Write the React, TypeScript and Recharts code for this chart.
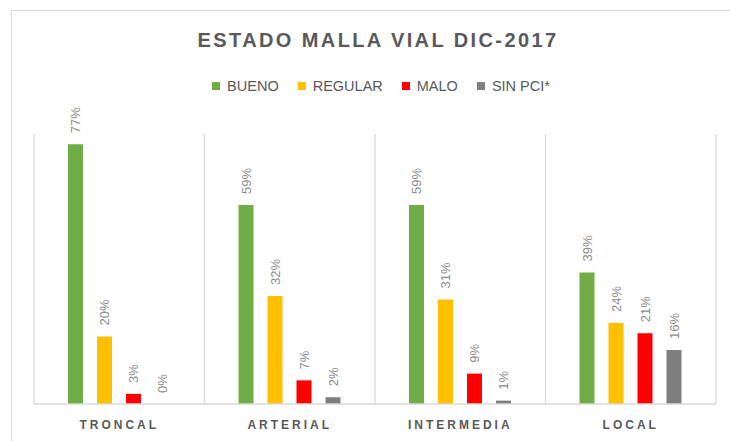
import { BarChart, Bar, XAxis, YAxis, CartesianGrid, Legend, LabelList } from "recharts";

const categories = ["TRONCAL", "ARTERIAL", "INTERMEDIA", "LOCAL"];
const bueno = [77, 59, 59, 39];
const regular = [20, 32, 31, 24];
const malo = [3, 7, 9, 21];
const sinPci = [0, 2, 1, 16];
const seriesNames = ["BUENO", "REGULAR", "MALO", "SIN PCI*"];
const seriesColors = ["#70ad47", "#ffc000", "#ff0000", "#7f7f7f"];
const yTicks = [0, 20, 40, 60, 80];
const separatorTicks = [0, 1, 2, 3, 4];

// pos = middle of each category slot, used by the hidden separator axis
const data = categories.map((name, i) => ({
  name,
  pos: i + 0.5,
  BUENO: bueno[i],
  REGULAR: regular[i],
  MALO: malo[i],
  "SIN PCI*": sinPci[i],
}));

const SANS = '"Liberation Sans", Arial, sans-serif';

const renderValue = (props: any) => {
  const { x, y, width, value } = props;
  const cx = Number(x) + Number(width) / 2;
  const ty = Number(y) - 11;
  return (
    <text
      x={cx}
      y={ty}
      transform={`rotate(-90 ${cx} ${ty})`}
      textAnchor="start"
      dominantBaseline="central"
      fill="#8c8c8c"
      fontSize={13}
      fontFamily={SANS}
    >
      {value ?? 0}%
    </text>
  );
};

const LegendContent = () => (
  <div
    style={{
      height: 20,
      display: "flex",
      justifyContent: "center",
      alignItems: "center",
      paddingLeft: 32,
      fontFamily: SANS,
      fontSize: 14.5,
      color: "#595959",
    }}
  >
    {seriesNames.map((n, i) => (
      <div key={n} style={{ display: "flex", alignItems: "center", marginRight: i < 3 ? 19 : 0 }}>
        <span style={{ width: 8, height: 8, background: seriesColors[i], marginRight: 7 }} />
        <span>{n}</span>
      </div>
    ))}
  </div>
);

export default function App() {
  return (
    <div style={{ position: "absolute", left: 0, top: 0, width: 730, height: 441, overflow: "hidden", background: "#fff" }}>
      <div
        style={{
          position: "absolute",
          left: 11,
          top: 10,
          width: 740,
          height: 460,
          border: "1.5px solid #d9d9d9",
        }}
      />
      <div
        style={{
          position: "absolute",
          left: 0,
          top: 29,
          width: 756,
          textAlign: "center",
          fontFamily: SANS,
          fontWeight: "bold",
          fontSize: 20,
          letterSpacing: 2.4,
          color: "#595959",
        }}
      >
        ESTADO MALLA VIAL DIC-2017
      </div>
      <BarChart
        width={730}
        height={441}
        data={data}
        margin={{ top: 114, right: 14, left: 34, bottom: 7 }}
        barCategoryGap="20%"
        barGap={14}
        style={{ position: "absolute", left: 0, top: 0 }}
      >
        <CartesianGrid
          xAxisId="sep"
          horizontal={false}
          stroke="#d9d9d9"
          strokeWidth={1.3}
        />
        <XAxis
          xAxisId="sep"
          dataKey="pos"
          type="number"
          domain={[0, 4]}
          ticks={separatorTicks}
          allowDataOverflow
          hide
        />
        <XAxis
          dataKey="name"
          height={30}
          axisLine={{ stroke: "#d9d9d9", strokeWidth: 1.5 }}
          tickLine={false}
          tickMargin={10}
          tick={{ fill: "#595959", fontSize: 12, fontWeight: "bold", letterSpacing: 3, fontFamily: SANS }}
        />
        <YAxis domain={[0, 80]} ticks={yTicks} hide />
        <Legend verticalAlign="top" content={<LegendContent />} wrapperStyle={{ top: 76, left: 0, width: 730 }} />
        {seriesNames.map((n, i) => (
          <Bar
            key={n}
            dataKey={n}
            fill={seriesColors[i]}
            barSize={15}
            minPointSize={0.01}
            isAnimationActive={false}
          >
            <LabelList dataKey={n} content={renderValue} />
          </Bar>
        ))}
      </BarChart>
    </div>
  );
}
